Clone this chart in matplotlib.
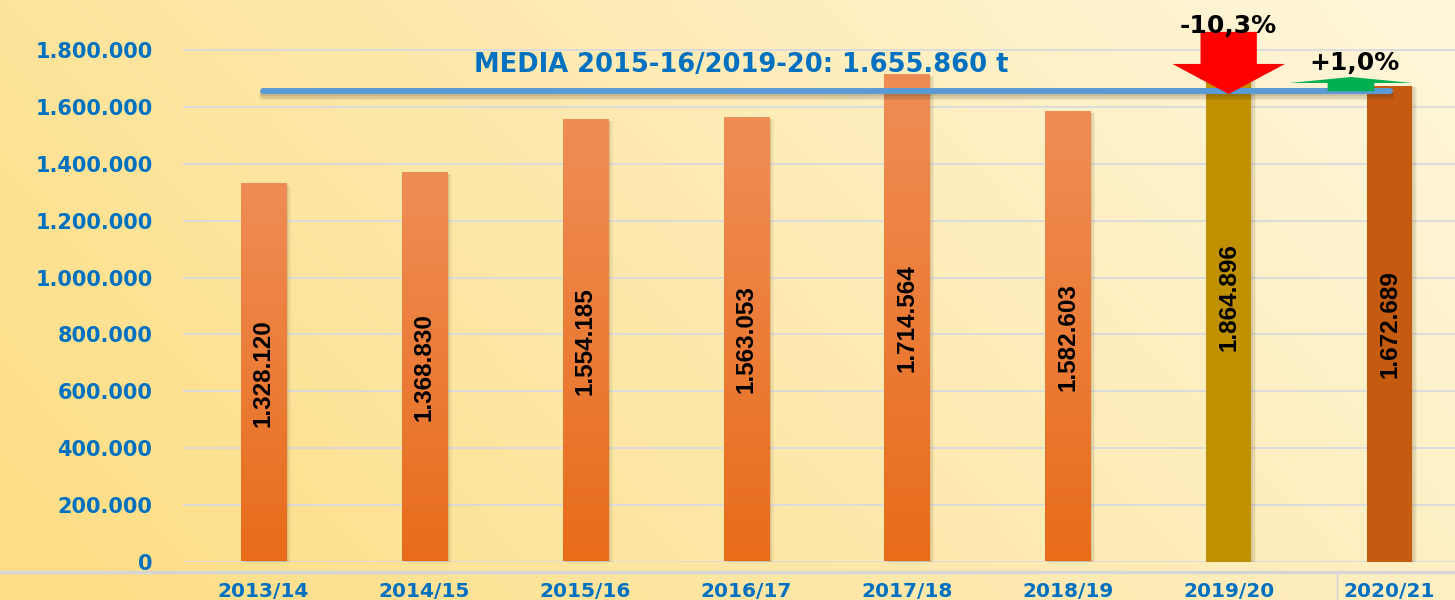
import numpy as np
import matplotlib
matplotlib.use("Agg")
import matplotlib.pyplot as plt
from matplotlib.colors import LinearSegmentedColormap, to_rgb
from matplotlib.patches import Rectangle, FancyArrow
from matplotlib.lines import Line2D
from matplotlib import transforms

# ---------------- data ----------------
seasons = ["2013/14", "2014/15", "2015/16", "2016/17", "2017/18", "2018/19", "2019/20", "2020/21"]
production = [1328120, 1368830, 1554185, 1563053, 1714564, 1582603, 1864896, 1672689]
average = 1655860
average_label = "MEDIA 2015-16/2019-20: 1.655.860 t"
yticks = [0, 200000, 400000, 600000, 800000, 1000000, 1200000, 1400000, 1600000, 1800000]
change_labels = ["-10,3%", "+1,0%"]

def fmt(v):
    return f"{v:,}".replace(",", ".")

# ---------------- style ----------------
BLUE = "#0070C0"
W, H, DPI = 1455, 600, 100
fig = plt.figure(figsize=(W / DPI, H / DPI), dpi=DPI)

# background gradient (saturated yellow on the left, pale cream on the right)
bg = fig.add_axes([0, 0, 1, 1], zorder=-10)
yy, xx = np.mgrid[0:H, 0:W]
t = np.clip(0.78 * (xx / W) + 0.30 * (1 - yy / H) - 0.05, 0, 1)
c0 = np.array(to_rgb("#FDDE86"))
c1 = np.array(to_rgb("#FFF6DA"))
img = c0[None, None, :] * (1 - t[..., None]) + c1[None, None, :] * t[..., None]
bg.imshow(img, aspect="auto", extent=(0, W, H, 0))
bg.set_xlim(0, W)
bg.set_ylim(H, 0)
bg.axis("off")

# main axes: left edge at 183 px, zero line at 561.5 px from top
left = 183 / W
bottom = (H - 561.5) / H
top_px = -6.5  # 2.000.000 lies just above the image
ax = fig.add_axes([left, bottom, 1 - left, (561.5 - top_px) / H])
ax.set_facecolor("none")
for s in ax.spines.values():
    s.set_visible(False)

x = np.arange(len(seasons))
bw = 0.28
xmax = 7.5 - (1470 - 1455) / 160.9

# gridlines
ax.set_yticks(yticks)
ax.set_yticklabels([fmt(v) for v in yticks])
ax.yaxis.grid(True, color="#D9DADF", lw=1.3, zorder=0)
ax.set_axisbelow(True)
ax.tick_params(axis="y", length=0, pad=22, labelsize=15, labelcolor=BLUE)
ax.set_xticks(x)
ax.set_xticklabels(seasons)
ax.tick_params(axis="x", length=0, pad=15, labelsize=14.5, labelcolor=BLUE)
for lab in ax.get_yticklabels() + ax.get_xticklabels():
    lab.set_fontweight("bold")
    lab.set_family("DejaVu Sans")

# bars
grad = LinearSegmentedColormap.from_list("g", ["#E86C1A", "#EF8D56"])
solid = {6: "#BF9000", 7: "#C55A11"}
for i, v in enumerate(production):
    x0 = x[i] - bw / 2
    # soft shadow
    for dx, a in [(5, 0.06), (3.5, 0.08), (2, 0.10)]:
        sh = transforms.offset_copy(ax.transData, fig=fig, x=dx, y=-1, units="dots")
        ax.add_patch(Rectangle((x0, 0), bw, v, transform=sh, color="#5A4A20", alpha=a, lw=0, zorder=1.5))
    if i in solid:
        ax.add_patch(Rectangle((x0, 0), bw, v, color=solid[i], lw=0, zorder=2))
    else:
        ax.imshow(np.linspace(0, 1, 256)[:, None], extent=(x0, x0 + bw, 0, v), origin="lower",
                  cmap=grad, aspect="auto", zorder=2, interpolation="bilinear")
    ax.text(x[i], v / 2, fmt(v), rotation=90, ha="center", va="center", fontsize=17.5,
            fontweight="bold", family="Liberation Sans", color="black", zorder=5)

# average line with soft shadow
for dy, a, lw in [(-5, 0.07, 6), (-3.5, 0.10, 5), (-2, 0.12, 4.5)]:
    shl = transforms.offset_copy(ax.transData, fig=fig, x=0, y=dy, units="dots")
    ax.plot([x[0], x[-1]], [average, average], color="#3A3020", alpha=a, lw=lw, solid_capstyle="round",
            transform=shl, zorder=3)
ax.plot([x[0], x[-1]], [average, average], color="#5B9BD5", lw=4.3, solid_capstyle="round", zorder=3.2)
ax.text(0.4387, 0.874, average_label, transform=ax.transAxes, ha="center", va="center",
        fontsize=18.5, fontweight="bold", color=BLUE, family="DejaVu Sans", zorder=5)

# red arrow (2019/20 -> 2020/21 decrease)
ax.add_patch(FancyArrow(x[6], production[6], 0, 1646000 - production[6], width=0.35, head_width=0.70,
                        head_length=106000, length_includes_head=True, color="#FF0000", lw=0, zorder=4))
# green arrow (2020/21 vs average)
ax.add_patch(FancyArrow(6.76, average, 0, 1706000 - average, width=0.29, head_width=0.76,
                        head_length=21000, length_includes_head=True, color="#00B050", lw=0, zorder=4))
ax.text(6.0, 1885600, change_labels[0], ha="center", va="center", fontsize=18, fontweight="bold",
        family="DejaVu Sans", color="black", zorder=5)
ax.text(6.78, 1755000, change_labels[1], ha="center", va="center", fontsize=18, fontweight="bold",
        family="DejaVu Sans", color="black", zorder=5)

ax.set_xlim(-0.5, xmax)
ax.set_ylim(0, 2000000)

# bottom axis line across the figure
fig.add_artist(Line2D([0, 1], [(H - 572) / H] * 2, color="#D6D6D6", lw=2.5, transform=fig.transFigure))
fig.add_artist(Line2D([1337 / W] * 2, [0, (H - 572) / H], color="#D0D2DC", lw=1, transform=fig.transFigure))

fig.savefig("out.png", dpi=DPI)
